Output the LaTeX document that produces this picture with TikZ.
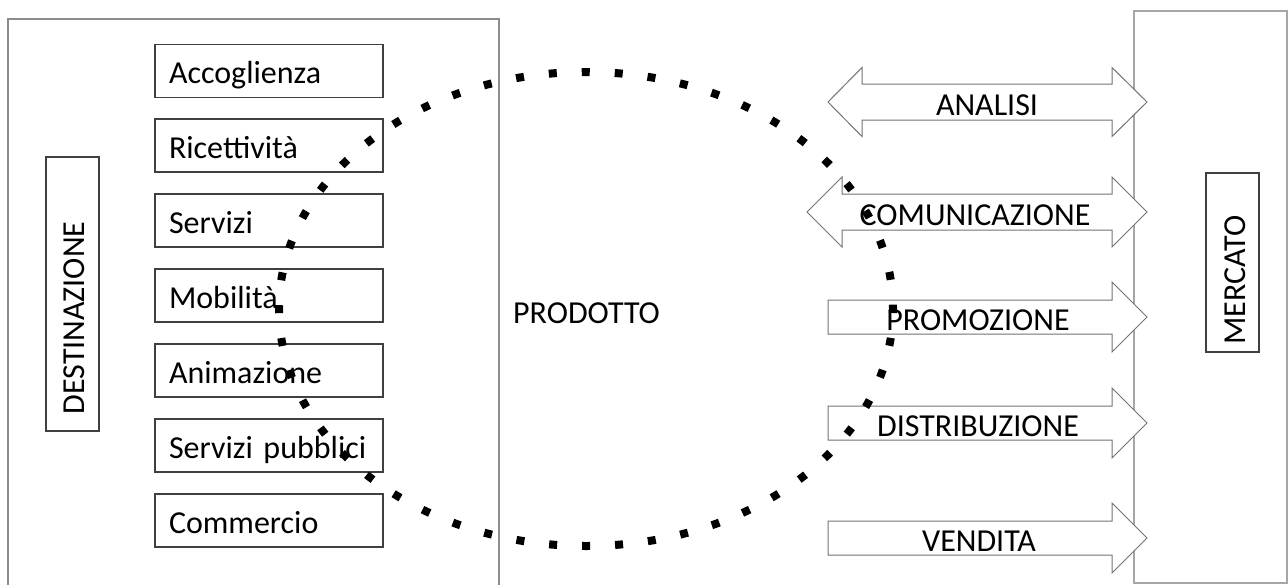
\documentclass[tikz,border=0pt]{standalone}
\usepackage{fontspec}
\setmainfont{Carlito}
\begin{document}
\begin{tikzpicture}[x=1pt,y=-1pt,
  every node/.style={font=\fontsize{32}{38}\selectfont},
  outerbox/.style={draw=black!45,line width=1.4pt},
  item/.style={draw=black!75,line width=1.4pt,rectangle,minimum height=53pt,
    text width=200pt,inner xsep=14pt,inner ysep=0pt,align=left,
    text height=30pt,text depth=5pt},
  vbox/.style={draw=black!75,line width=1.4pt,rectangle,inner sep=0pt},
  arr/.style={draw=black!55,line width=1pt,fill=white},
  lbl/.style={inner sep=0pt,text height=22pt,text depth=2pt},
  dots/.style={line width=8pt,dash pattern=on 8pt off 25pt,dash phase=4pt}]
\useasboundingbox (0,0) rectangle (1288,584);
% outer frames
\draw[outerbox] (8,590) -- (8,19) -- (499,19) -- (499,590);
\draw[outerbox,draw=black!35] (1134,11) rectangle (1287,583);
% vertical labels
\node[vbox,minimum width=53pt,minimum height=274pt] (dest) at (72.5,294) {};
\node[lbl,rotate=90] (destl) at (74,318) {DESTINAZIONE};
\node[vbox,minimum width=53pt,minimum height=179pt] (merc) at (1232.5,262.5) {};
\node[lbl,rotate=90] (mercl) at (1235.5,280) {MERCATO};
% items
\node[item] (acc) at (269,71) {Accoglienza};
\node[item] (ric) at (269,145.5) {Ricettività};
\node[item] (ser) at (269,220.5) {Servizi};
\node[item] (mob) at (269,295.5) {Mobilità};
\node[item] (ani) at (269,370.5) {Animazione};
\node[item] (pub) at (269,445.5) {Servizi pubblici};
\node[item] (com) at (269,520.5) {Commercio};
% product
\node[lbl,anchor=west] (prod) at (513,313) {PRODOTTO};
% double arrows
\draw[arr] (828,102) -- (862,67.5) -- (862,84) -- (1112,84) -- (1112,67.5) -- (1147,102)
  -- (1112,136.5) -- (1112,120) -- (862,120) -- (862,136.5) -- cycle;
\draw[arr] (807,212) -- (842,177) -- (842,194) -- (1112,194) -- (1112,177) -- (1147,212)
  -- (1112,247) -- (1112,230) -- (842,230) -- (842,247) -- cycle;
% single arrows
\draw[arr] (828,300) -- (1112,300) -- (1112,282) -- (1147,317) -- (1112,352) -- (1112,334) -- (828,334) -- cycle;
\draw[arr] (828,406) -- (1112,406) -- (1112,388) -- (1147,423) -- (1112,458) -- (1112,440) -- (828,440) -- cycle;
\draw[arr] (828,521) -- (1112,521) -- (1112,503) -- (1147,538) -- (1112,573) -- (1112,555) -- (828,555) -- cycle;
\node[lbl] (ana) at (987,105) {ANALISI};
\node[lbl] (comu) at (975,215) {COMUNICAZIONE};
\node[lbl] (promo) at (978,320) {PROMOZIONE};
\node[lbl] (dist) at (978,426) {DISTRIBUZIONE};
\node[lbl] (vend) at (979,541) {VENDITA};
% dotted ellipse
\draw[dots] (586,309) ellipse [x radius=307,y radius=237];
\end{tikzpicture}
\end{document}
